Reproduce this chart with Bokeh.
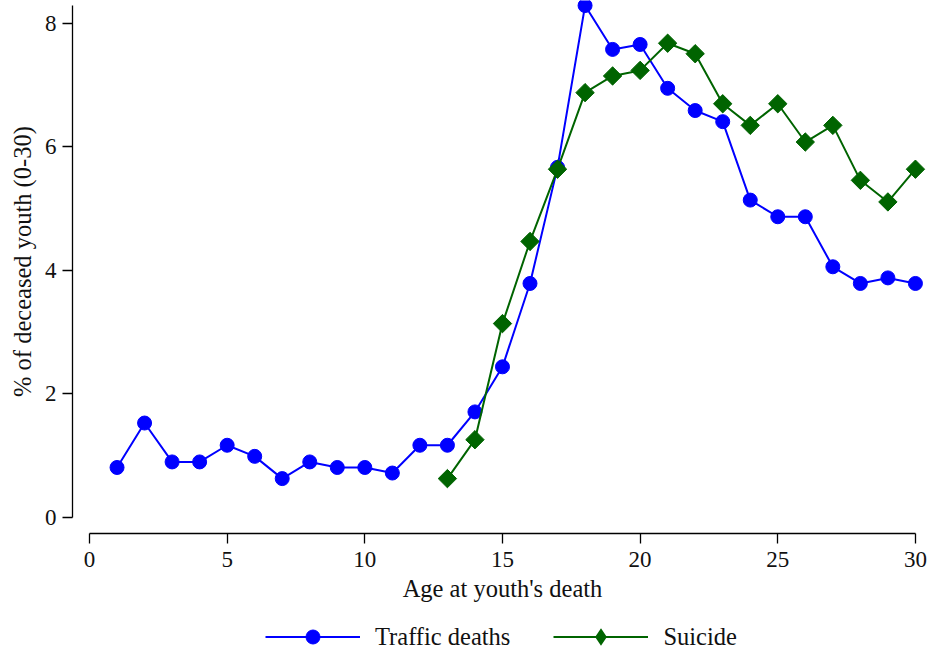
from bokeh.plotting import figure
from bokeh.models import Range1d, FixedTicker, Legend, LegendItem, Label
from bokeh.embed import file_html
from bokeh.resources import INLINE
import math

ages_traffic = list(range(1, 31))
traffic = [0.81, 1.53, 0.90, 0.90, 1.17, 0.99, 0.63, 0.90, 0.81, 0.81,
           0.72, 1.17, 1.17, 1.71, 2.44, 3.79, 5.67, 8.29, 7.58, 7.66,
           6.95, 6.59, 6.41, 5.14, 4.87, 4.87, 4.06, 3.79, 3.88, 3.79]

ages_suicide = list(range(13, 31))
suicide = [0.63, 1.26, 3.14, 4.47, 5.64, 6.88, 7.15, 7.24, 7.68, 7.51,
           6.70, 6.35, 6.70, 6.08, 6.35, 5.46, 5.11, 5.64]

x_ticks = [0, 5, 10, 15, 20, 25, 30]
y_ticks = [0, 2, 4, 6, 8]
x_title = "Age at youth's death"
y_title = "% of deceased youth (0-30)"

FONT = "Liberation Serif"
TXT = "#111111"
BLUE = "#0000ff"
GREEN = "#006400"

# frame covers the whole canvas; axes are placed at fixed data locations
p = figure(width=932, height=657,
           min_border_left=0, min_border_right=0, min_border_top=0, min_border_bottom=0,
           output_backend="svg", toolbar_location=None,
           x_range=Range1d(-3.233, 30.62), y_range=Range1d(-2.267, 8.372),
           background_fill_color="white", border_fill_color="white")
p.outline_line_color = None
p.grid.visible = False

ymax = max(max(traffic), max(suicide))

for ax in (p.xaxis[0], p.yaxis[0]):
    ax.axis_line_color = "black"
    ax.axis_line_width = 1.3
    ax.major_tick_line_color = "black"
    ax.major_tick_line_width = 1.3
    ax.major_tick_in = 0
    ax.major_tick_out = 10
    ax.minor_tick_line_color = None
    ax.major_label_text_font = FONT
    ax.major_label_text_font_size = "23px"
    ax.major_label_text_color = TXT

p.xaxis[0].ticker = FixedTicker(ticks=x_ticks)
p.yaxis[0].ticker = FixedTicker(ticks=y_ticks)
p.xaxis[0].bounds = (x_ticks[0], x_ticks[-1])
p.yaxis[0].bounds = (0, ymax)
p.xaxis[0].fixed_location = -0.26
p.yaxis[0].fixed_location = -0.62
p.yaxis[0].major_label_orientation = "horizontal"
p.xaxis[0].major_label_standoff = 8
p.yaxis[0].major_label_standoff = 6

p.add_layout(Label(x=(x_ticks[0] + x_ticks[-1]) / 2, y=69, y_units="screen",
                   text=x_title, text_align="center", text_baseline="middle",
                   text_font=FONT, text_font_size="24.5px", text_color=TXT))
p.add_layout(Label(x=22, x_units="screen", y=ymax / 2,
                   text=y_title, angle=math.pi / 2,
                   text_align="center", text_baseline="middle",
                   text_font=FONT, text_font_size="24.5px", text_color=TXT))

l1 = p.line(ages_traffic, traffic, line_color=BLUE, line_width=2)
s1 = p.scatter(ages_traffic, traffic, marker="circle", size=14,
               fill_color=BLUE, line_color=BLUE)
l2 = p.line(ages_suicide, suicide, line_color=GREEN, line_width=2)
# diamond key drawn under the rotated squares (used as the legend glyph)
d2 = p.scatter(ages_suicide, suicide, marker="diamond", size=14,
               fill_color=GREEN, line_color=GREEN, line_width=2, line_join="miter")
s2 = p.scatter(ages_suicide, suicide, marker="square", size=13, angle=math.pi / 4,
               fill_color=GREEN, line_color=GREEN)

legend = Legend(items=[LegendItem(label="Traffic deaths", renderers=[l1, s1]),
                       LegendItem(label="Suicide", renderers=[l2, d2])],
                orientation="horizontal", location=(265, 3),
                glyph_width=95, glyph_height=35, label_standoff=15, spacing=43,
                padding=0, margin=0,
                border_line_alpha=0, background_fill_alpha=0,
                label_text_font=FONT, label_text_font_size="24.5px",
                label_text_color=TXT)
p.add_layout(legend, "center")

open("out.html", "w").write(file_html(p, INLINE))
